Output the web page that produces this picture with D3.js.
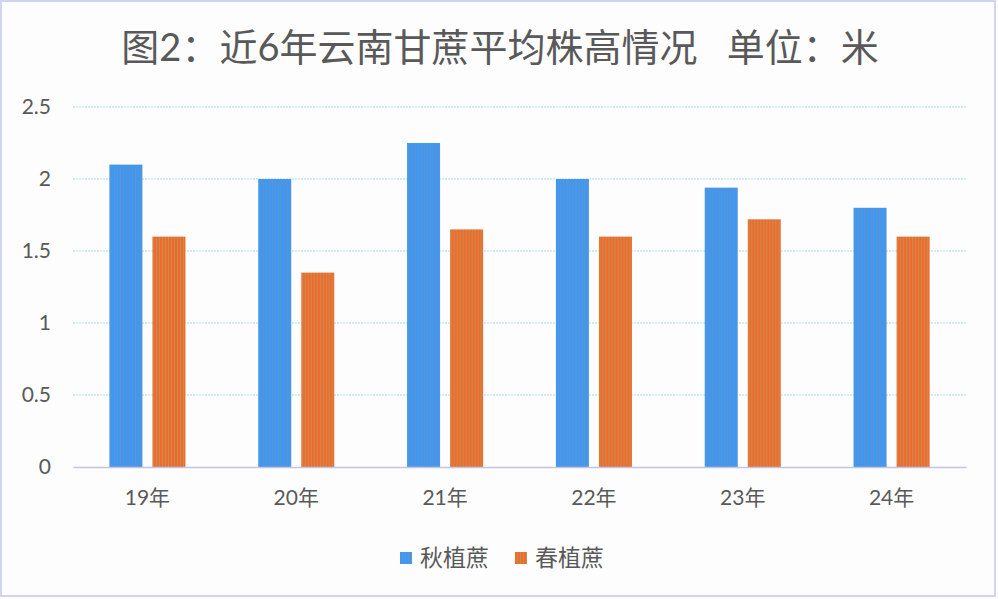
<!DOCTYPE html>
<html>
<head>
<meta charset="utf-8">
<style type="text/css">
body {
	margin: 0;
	background: #fdfdfd;
}
text {
	fill: #595959;
	font-family: Lato, "Noto Sans CJK SC", sans-serif;
}
.grid line {
	stroke: #a6dbe8;
	stroke-width: 1;
	stroke-dasharray: 2,1;
}
.title {
	font-size: 38px;
}
</style>
<script src="https://d3js.org/d3.v7.min.js"></script>
</head>
<body>
<script type="text/javascript">
var width  = 998;
var height = 599;

var categories = ["19年", "20年", "21年", "22年", "23年", "24年"];
var seriesNames = ["秋植蔗", "春植蔗"];
var autumn = [2.1, 2.0, 2.25, 2.0, 1.94, 1.8];
var spring = [1.6, 1.35, 1.65, 1.6, 1.72, 1.6];
var yTicks = [0, 0.5, 1, 1.5, 2, 2.5];

var seriesValues = [autumn, spring];
var fills = ["url(#stripeBlue)", "url(#stripeOrange)"];

var svg = d3.select("body").append("svg").attr("width", width).attr("height", height);

// striped fills like the original picture
var defs = svg.append("defs");
var pb = defs.append("pattern").attr("id", "stripeBlue").attr("patternUnits", "userSpaceOnUse")
	.attr("width", 3).attr("height", 10);
pb.append("rect").attr("width", 3).attr("height", 10).attr("fill", "#3d98f3");
pb.append("rect").attr("x", 2).attr("width", 1).attr("height", 10).attr("fill", "#5e93cf");
var po = defs.append("pattern").attr("id", "stripeOrange").attr("patternUnits", "userSpaceOnUse")
	.attr("width", 3).attr("height", 10);
po.append("rect").attr("width", 3).attr("height", 10).attr("fill", "#ef6b2d");
po.append("rect").attr("x", 2).attr("width", 1).attr("height", 10).attr("fill", "#c98b4b");

// outer frame
svg.append("rect").attr("x", 1).attr("y", 1).attr("width", 994).attr("height", 595)
	.attr("fill", "#fdfdfd").attr("stroke", "#d2d2f2").attr("stroke-width", 2);

var plotLeft = 73, plotRight = 966, plotTop = 107, plotBottom = 467;

var x0 = d3.scaleBand().domain(categories).range([plotLeft, plotRight]).padding(0);
var x1 = d3.scaleBand().domain(seriesNames).range([0, x0.bandwidth()])
	.paddingInner(0.233).paddingOuter(0.846);
var y = d3.scaleLinear().domain([0, 2.5]).range([plotBottom, plotTop]);

// gridlines
svg.append("g").attr("class", "grid")
	.selectAll("line").data(yTicks.slice(1)).enter().append("line")
	.attr("x1", plotLeft).attr("x2", plotRight)
	.attr("y1", function(d) { return y(d); })
	.attr("y2", function(d) { return y(d); });

// y axis labels
var yAxis = d3.axisLeft(y).tickValues(yTicks).tickSize(0).tickPadding(0)
	.tickFormat(function(d) { return String(d); });
var yg = svg.append("g").attr("transform", "translate(51,0)").call(yAxis);
yg.select(".domain").remove();
yg.selectAll("text").style("font-size", "21px");

// bars
var groups = svg.append("g").selectAll("g").data(categories).enter().append("g")
	.attr("transform", function(d) { return "translate(" + x0(d) + ",0)"; });
groups.selectAll("rect").data(function(d, i) {
		return seriesNames.map(function(s, j) { return {s: s, v: seriesValues[j][i], j: j}; });
	}).enter().append("rect")
	.attr("x", function(d) { return x1(d.s); })
	.attr("width", x1.bandwidth())
	.attr("y", function(d) { return y(d.v); })
	.attr("height", function(d) { return y(0) - y(d.v); })
	.attr("fill", function(d) { return fills[d.j]; });

// x axis
var xAxis = d3.axisBottom(x0).tickSize(0).tickPadding(23);
var xg = svg.append("g").attr("transform", "translate(0," + plotBottom + ")").call(xAxis);
xg.select(".domain").attr("stroke", "#c4c4e6").attr("stroke-width", 1.5);
xg.selectAll("text").style("font-size", "21px");

// title
svg.append("text").attr("class", "title").attr("x", 500).attr("y", 61)
	.attr("text-anchor", "middle").attr("xml:space", "preserve")
	.text("图2：近6年云南甘蔗平均株高情况   单位：米");

// legend
var legendX = [400, 515];
var lg = svg.append("g").selectAll("g").data(seriesNames).enter().append("g")
	.attr("transform", function(d, i) { return "translate(" + legendX[i] + ",552)"; });
lg.append("rect").attr("width", 12).attr("height", 12)
	.attr("fill", function(d, i) { return fills[i]; });
lg.append("text").attr("x", 20).attr("y", 6).attr("dy", "0.35em")
	.style("font-size", "23px").text(function(d) { return d; });
</script>
</body>
</html>
